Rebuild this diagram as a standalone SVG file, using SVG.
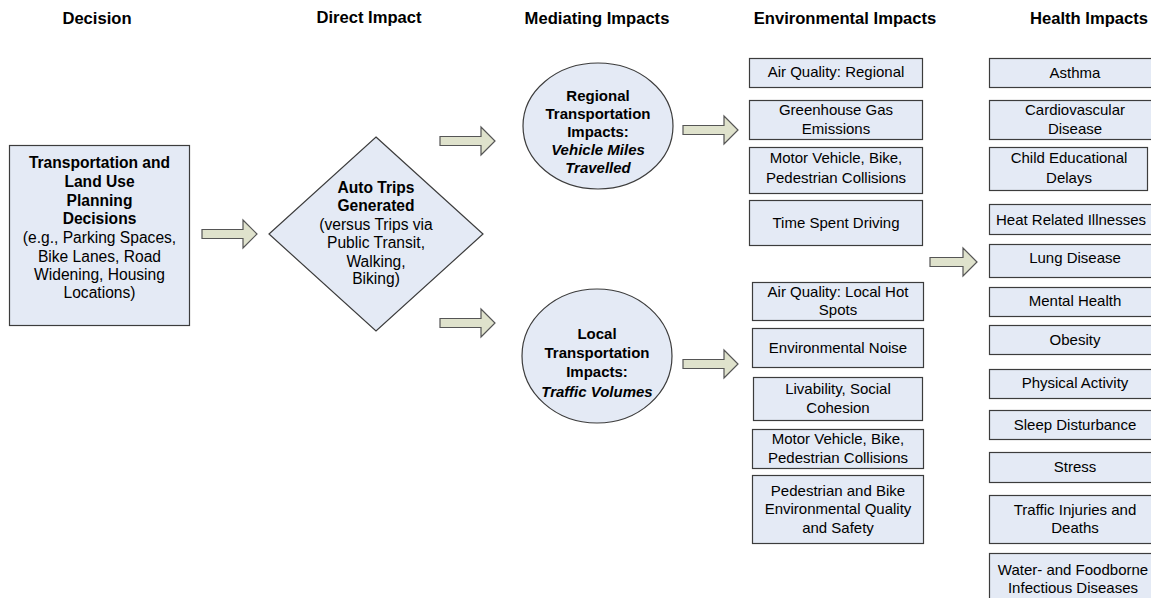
<svg xmlns="http://www.w3.org/2000/svg" width="1151" height="598" viewBox="0 0 1151 598">
  <style>
    text { font-family: "Liberation Sans", Arial, sans-serif; font-size: 15px; fill: #000; text-anchor: middle; }
    .title { font-weight: bold; font-size: 16.6px; }
    .lg { font-size: 15.6px; }
    .b { font-weight: bold; }
    .bi { font-weight: bold; font-style: italic; }
    .box { fill: #e4eaf5; stroke: #3c3c3c; stroke-width: 1.2; }
    .arrow { fill: #dfe2cc; stroke: #555; stroke-width: 1.2; stroke-linejoin: miter; }
  </style>
  <defs>
    <path id="blockArrow" d="M0,-4.5 H41 V-14 L55,0 L41,14 V4.5 H0 Z"/>
    <path id="shortArrow" d="M0,-4.5 H33 V-14 L47,0 L33,14 V4.5 H0 Z"/>
  </defs>
  <rect width="1151" height="598" fill="#fff"/>

  <!-- column headings -->
  <g id="headings">
    <text class="title" x="97" y="24">Decision</text>
    <text class="title" x="369" y="23">Direct Impact</text>
    <text class="title" x="597" y="24">Mediating Impacts</text>
    <text class="title" x="845" y="24">Environmental Impacts</text>
    <text class="title" x="1089" y="24">Health Impacts</text>
  </g>

  <!-- connectors -->
  <g id="connectors">
    <use href="#blockArrow" class="arrow" transform="translate(202,234)"/>
    <use href="#blockArrow" class="arrow" transform="translate(440,141)"/>
    <use href="#blockArrow" class="arrow" transform="translate(440,323)"/>
    <use href="#blockArrow" class="arrow" transform="translate(683,130)"/>
    <use href="#blockArrow" class="arrow" transform="translate(683,364)"/>
    <use href="#shortArrow" class="arrow" transform="translate(930,262)"/>
  </g>

  <!-- decision -->
  <g id="decision">
    <rect class="box" x="9.5" y="145.5" width="180" height="180"/>
    <text class="b lg" x="99.5" y="168">Transportation and</text>
    <text class="b lg" x="99.5" y="187">Land Use</text>
    <text class="b lg" x="99.5" y="206">Planning</text>
    <text class="b lg" x="99.5" y="224">Decisions</text>
    <text class="lg" x="99.5" y="243">(e.g., Parking Spaces,</text>
    <text class="lg" x="99.5" y="262">Bike Lanes, Road</text>
    <text class="lg" x="99.5" y="280">Widening, Housing</text>
    <text class="lg" x="99.5" y="298">Locations)</text>
  </g>

  <!-- direct impact -->
  <g id="auto-trips">
    <polygon class="box" points="376,137 483,234 376,331 269,234"/>
    <text class="b lg" x="376" y="193">Auto Trips</text>
    <text class="b lg" x="376" y="211">Generated</text>
    <text class="lg" x="376" y="230">(versus Trips via</text>
    <text class="lg" x="376" y="248">Public Transit,</text>
    <text class="lg" x="376" y="267">Walking,</text>
    <text class="lg" x="376" y="284">Biking)</text>
  </g>

  <!-- mediating impacts -->
  <g id="regional-transportation">
    <ellipse class="box" cx="598" cy="126" rx="75" ry="63"/>
    <text class="b" x="598" y="101">Regional</text>
    <text class="b" x="598" y="119">Transportation</text>
    <text class="b" x="598" y="137">Impacts:</text>
    <text class="bi" x="598" y="155">Vehicle Miles</text>
    <text class="bi" x="598" y="173">Travelled</text>
  </g>
  <g id="local-transportation">
    <ellipse class="box" cx="597" cy="356" rx="75" ry="67"/>
    <text class="b" x="597" y="339">Local</text>
    <text class="b" x="597" y="358">Transportation</text>
    <text class="b" x="597" y="377">Impacts:</text>
    <text class="bi" x="597" y="397">Traffic Volumes</text>
  </g>

  <!-- environmental impacts -->
  <g id="env-air-regional">
    <rect class="box" x="749.5" y="58.5" width="173" height="29"/>
    <text x="836" y="77">Air Quality: Regional</text>
  </g>
  <g id="env-ghg">
    <rect class="box" x="749.5" y="100.5" width="173" height="39"/>
    <text x="836" y="115">Greenhouse Gas</text>
    <text x="836" y="134">Emissions</text>
  </g>
  <g id="env-collisions-regional">
    <rect class="box" x="749.5" y="147.5" width="173" height="46"/>
    <text x="836" y="163">Motor Vehicle, Bike,</text>
    <text x="836" y="183">Pedestrian Collisions</text>
  </g>
  <g id="env-driving-time">
    <rect class="box" x="749.5" y="200.5" width="173" height="45"/>
    <text x="836" y="228">Time Spent Driving</text>
  </g>
  <g id="env-air-local">
    <rect class="box" x="752.5" y="282.5" width="171" height="38"/>
    <text x="838" y="297">Air Quality:  Local Hot</text>
    <text x="838" y="315">Spots</text>
  </g>
  <g id="env-noise">
    <rect class="box" x="752.5" y="328.5" width="171" height="39"/>
    <text x="838" y="353">Environmental Noise</text>
  </g>
  <g id="env-livability">
    <rect class="box" x="753.5" y="377.5" width="169" height="43"/>
    <text x="838" y="394">Livability, Social</text>
    <text x="838" y="413">Cohesion</text>
  </g>
  <g id="env-collisions-local">
    <rect class="box" x="752.5" y="429.5" width="171" height="39"/>
    <text x="838" y="444">Motor Vehicle, Bike,</text>
    <text x="838" y="463">Pedestrian Collisions</text>
  </g>
  <g id="env-ped-bike">
    <rect class="box" x="752.5" y="475.5" width="171" height="68"/>
    <text x="838" y="496">Pedestrian and Bike</text>
    <text x="838" y="514">Environmental Quality</text>
    <text x="838" y="533">and Safety</text>
  </g>

  <!-- health impacts -->
  <g id="health-asthma">
    <rect class="box" x="989.5" y="58.5" width="172" height="29"/>
    <text x="1075" y="78">Asthma</text>
  </g>
  <g id="health-cardio">
    <rect class="box" x="989.5" y="100.5" width="172" height="39"/>
    <text x="1075" y="115">Cardiovascular</text>
    <text x="1075" y="134">Disease</text>
  </g>
  <g id="health-child">
    <rect class="box" x="989.5" y="147.5" width="158" height="43"/>
    <text x="1069" y="163">Child Educational</text>
    <text x="1069" y="183">Delays</text>
  </g>
  <g id="health-heat">
    <rect class="box" x="989.5" y="204.5" width="172" height="30"/>
    <text x="1071" y="225">Heat Related Illnesses</text>
  </g>
  <g id="health-lung">
    <rect class="box" x="989.5" y="244.5" width="172" height="33"/>
    <text x="1075" y="263">Lung Disease</text>
  </g>
  <g id="health-mental">
    <rect class="box" x="989.5" y="287.5" width="172" height="29"/>
    <text x="1075" y="306">Mental Health</text>
  </g>
  <g id="health-obesity">
    <rect class="box" x="989.5" y="325.5" width="172" height="29"/>
    <text x="1075" y="345">Obesity</text>
  </g>
  <g id="health-physical">
    <rect class="box" x="989.5" y="369.5" width="172" height="29"/>
    <text x="1075" y="388">Physical Activity</text>
  </g>
  <g id="health-sleep">
    <rect class="box" x="989.5" y="410.5" width="172" height="29"/>
    <text x="1075" y="430">Sleep Disturbance</text>
  </g>
  <g id="health-stress">
    <rect class="box" x="989.5" y="452.5" width="172" height="30"/>
    <text x="1075" y="472">Stress</text>
  </g>
  <g id="health-traffic">
    <rect class="box" x="989.5" y="495.5" width="172" height="48"/>
    <text x="1075" y="515">Traffic Injuries and</text>
    <text x="1075" y="533">Deaths</text>
  </g>
  <g id="health-waterborne">
    <rect class="box" x="989.5" y="553.5" width="172" height="50"/>
    <text x="1073" y="575">Water- and Foodborne</text>
    <text x="1073" y="593">Infectious Diseases</text>
  </g>
</svg>
